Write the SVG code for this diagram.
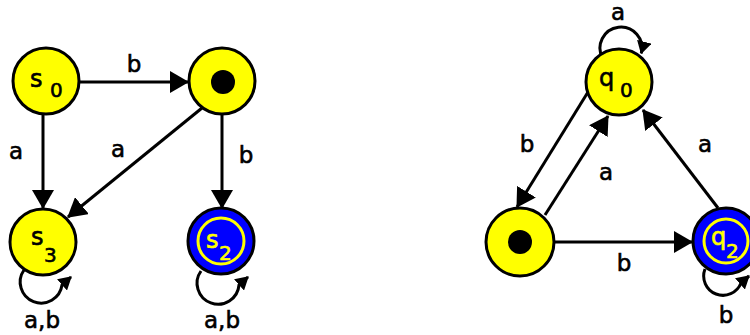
<svg xmlns="http://www.w3.org/2000/svg" width="750" height="335" viewBox="0 0 750 335">
<style>
.edge{fill:none;stroke:#000;stroke-width:3;marker-end:url(#arr)}
.loop{fill:none;stroke:#000;stroke-width:3;marker-end:url(#sarr)}
.lbl{font-family:"DejaVu Sans",Verdana,sans-serif;font-size:23px;fill:#000;stroke:#000;stroke-width:0.6;text-anchor:middle}
.nt{font-family:"DejaVu Sans",Verdana,sans-serif;font-size:24px;fill:#000;stroke:#000;stroke-width:0.6}
.yt{fill:#ffff00;stroke:#ffff00}
.sub{font-size:20px}
.yel{fill:#ffff00;stroke:#000;stroke-width:3}
.blu{fill:#0000ff;stroke:#000;stroke-width:3}
.ring{fill:none;stroke:#ffff00;stroke-width:3}
.dot{fill:#000}
</style>
<defs>
<marker id="arr" markerUnits="userSpaceOnUse" markerWidth="19" markerHeight="22" viewBox="0 0 19 22" refX="18" refY="11" orient="auto">
<path d="M0,0 L19,11 L0,22 z" fill="#000"/>
</marker>
<marker id="sarr" markerUnits="userSpaceOnUse" markerWidth="13" markerHeight="15" viewBox="0 0 13 15" refX="12" refY="7.5" orient="auto">
<path d="M0,0 L13,7.5 L0,15 z" fill="#000"/>
</marker>
</defs>
<g id="connectors">
<path class="edge" d="M78 82 L188 82"/>
<text class="lbl" x="134" y="72">b</text>
<path class="edge" d="M43 112 L43 208"/>
<text class="lbl" x="16" y="159">a</text>
<path class="edge" d="M202 108 L68 217"/>
<text class="lbl" x="118" y="157">a</text>
<path class="edge" d="M222 113 L222 208"/>
<text class="lbl" x="246" y="163">b</text>
<path class="loop" d="M24 270 A21 21 0 1 0 62 285 L71 277"/>
<text class="lbl" x="42" y="328">a,b</text>
<path class="loop" d="M201 271 A21 21 0 1 0 239 285 L248 277"/>
<text class="lbl" x="222" y="328">a,b</text>
<path class="edge" d="M588 92 L517 207"/>
<text class="lbl" x="527" y="152">b</text>
<path class="edge" d="M545 215 L608 116"/>
<text class="lbl" x="606" y="180">a</text>
<path class="edge" d="M718 208 L643 110"/>
<text class="lbl" x="705" y="152">a</text>
<path class="edge" d="M553 242 L692 242"/>
<text class="lbl" x="624" y="271">b</text>
<path class="loop" d="M602.6 58.2 A21 21 0 1 1 641.3 53.4"/>
<text class="lbl" x="618" y="20">a</text>
<path class="loop" d="M705 269 A19 19 0 1 0 741 283 L749 276"/>
<text class="lbl" x="726" y="323">b</text>
</g>
<g id="s0">
<circle class="yel" cx="46" cy="81" r="33"/>
<text class="nt" x="30" y="87">s</text><text class="nt sub" x="50" y="97">0</text>
</g>
<g id="s1">
<circle class="yel" cx="222" cy="81" r="33"/>
<circle class="dot" cx="223" cy="82" r="12"/>
</g>
<g id="s3">
<circle class="yel" cx="43" cy="242" r="33"/>
<text class="nt" x="31" y="245">s</text><text class="nt sub" x="44" y="262">3</text>
</g>
<g id="s2">
<circle class="blu" cx="221" cy="241" r="33"/>
<circle class="ring" cx="221" cy="241" r="23"/>
<text class="nt yt" x="206" y="248">s</text><text class="nt sub yt" x="219" y="260">2</text>
</g>
<g id="q0">
<circle class="yel" cx="619" cy="82" r="33"/>
<text class="nt" x="599" y="86">q</text><text class="nt sub" x="620" y="97">0</text>
</g>
<g id="q1">
<circle class="yel" cx="520" cy="242" r="34"/>
<circle class="dot" cx="520" cy="242" r="12"/>
</g>
<g id="q2">
<circle class="blu" cx="726" cy="241" r="33"/>
<circle class="ring" cx="726" cy="241" r="22"/>
<text class="nt yt" x="711" y="245">q</text><text class="nt sub yt" x="726" y="258">2</text>
</g>
</svg>
